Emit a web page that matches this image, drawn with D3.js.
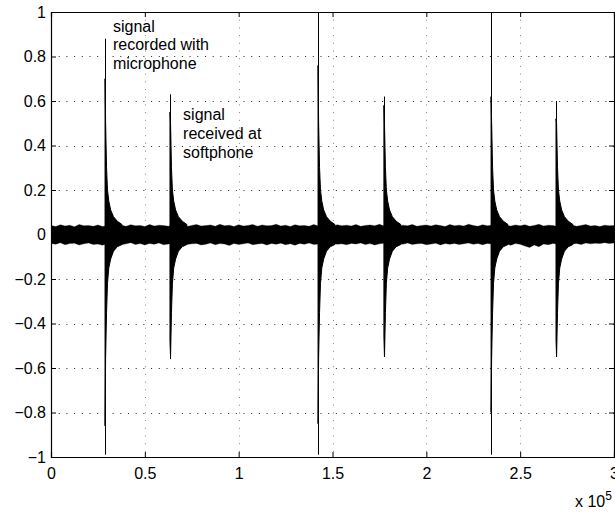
<!DOCTYPE html>
<html>
<head>
<meta charset="utf-8">
<script src="https://cdn.jsdelivr.net/npm/d3@7"></script>
<style>
  body { margin: 0; background: #fff; }
  svg text { font-family: "Liberation Sans", Arial, Helvetica, sans-serif; fill: #000; }
</style>
</head>
<body>
<div id="chart"></div>
<script>
// x in samples, y in amplitude
var xTicks = [0, 50000, 100000, 150000, 200000, 250000, 300000];
var yTicks = [-1, -0.8, -0.6, -0.4, -0.2, 0, 0.2, 0.4, 0.6, 0.8, 1];

// background noise band, one value every 2500 samples
var noiseStep = 2500;
var noiseHi = [
  0.040,0.036,0.044,0.038,0.042,0.035,0.045,0.039,0.041,0.037,
  0.043,0.036,0.040,0.046,0.038,0.042,0.037,0.044,0.039,0.041,
  0.036,0.045,0.038,0.042,0.040,0.037,0.044,0.039,0.043,0.036,
  0.041,0.045,0.038,0.040,0.043,0.037,0.046,0.039,0.042,0.036,
  0.044,0.038,0.041,0.045,0.037,0.043,0.039,0.040,0.046,0.038,
  0.042,0.036,0.044,0.039,0.041,0.037,0.045,0.038,0.043,0.040,
  0.036,0.044,0.039,0.042,0.038,0.045,0.037,0.041,0.043,0.039,
  0.046,0.038,0.040,0.044,0.036,0.042,0.039,0.045,0.037,0.041,
  0.043,0.038,0.044,0.040,0.036,0.045,0.039,0.042,0.038,0.046,
  0.041,0.037,0.044,0.039,0.042,0.036,0.045,0.040,0.038,0.043,
  0.039,0.044,0.037,0.041,0.046,0.038,0.042,0.040,0.036,0.044,
  0.039,0.043,0.037,0.041,0.045,0.038,0.040,0.036,0.042,0.039,
  0.040];
var noiseLo = [
  -0.040,-0.044,-0.037,-0.046,-0.041,-0.039,-0.047,-0.042,-0.038,-0.045,
  -0.043,-0.048,-0.040,-0.044,-0.039,-0.046,-0.042,-0.037,-0.045,-0.041,
  -0.047,-0.040,-0.044,-0.038,-0.046,-0.043,-0.041,-0.048,-0.039,-0.045,
  -0.042,-0.040,-0.047,-0.044,-0.038,-0.046,-0.041,-0.043,-0.049,-0.040,
  -0.045,-0.042,-0.038,-0.046,-0.043,-0.040,-0.047,-0.041,-0.044,-0.039,
  -0.046,-0.042,-0.048,-0.040,-0.044,-0.038,-0.045,-0.043,-0.041,-0.047,
  -0.039,-0.044,-0.042,-0.046,-0.040,-0.043,-0.038,-0.045,-0.041,-0.047,
  -0.042,-0.039,-0.046,-0.043,-0.040,-0.044,-0.038,-0.045,-0.042,-0.040,
  -0.046,-0.043,-0.039,-0.047,-0.041,-0.044,-0.040,-0.045,-0.042,-0.038,
  -0.044,-0.041,-0.046,-0.040,-0.043,-0.039,-0.045,-0.042,-0.048,-0.041,
  -0.044,-0.052,-0.058,-0.047,-0.055,-0.043,-0.046,-0.040,-0.044,-0.041,
  -0.039,-0.043,-0.040,-0.045,-0.038,-0.042,-0.039,-0.041,-0.037,-0.040,
  -0.038];

// clicks
var spikeX = [28800, 63400, 142300, 177400, 234500, 269100];
var spikePeak = [0.88, 0.63, 1.0, 0.62, 1.0, 0.60];
var spikeTrough = [-0.99, -0.56, -0.99, -0.51, -0.99, -0.55];
var bodyHi = [0.70, 0.55, 0.76, 0.58, 0.62, 0.52];
var bodyLo = [-0.86, -0.48, -0.85, -0.46, -0.80, -0.47];

// decaying tail after each click (samples after the click)
var tailDx = [300, 800, 1300, 2000, 3000, 4500, 6500, 9000];
var tailHi = [0.50, 0.30, 0.20, 0.15, 0.11, 0.08, 0.06, 0.045];
var tailLo = [-0.55, -0.35, -0.22, -0.15, -0.11, -0.075, -0.055, -0.045];

var notes = [
  {x: 33000, y: 0.912, lines: ['signal', 'recorded with', 'microphone']},
  {x: 70400, y: 0.515, lines: ['signal', 'received at', 'softphone']}
];

var W = 615, H = 514;
var pL = 51, pR = 614, pT = 12, pB = 457;
var fontSize = '16px';

var svg = d3.select('#chart').append('svg')
  .attr('width', W)
  .attr('height', H);

var xScale = d3.scaleLinear().domain([0, 300000]).range([pL, pR]);
var yScale = d3.scaleLinear().domain([-1, 1]).range([pB, pT]);

svg.append('defs').append('clipPath').attr('id', 'plotclip')
  .append('rect')
  .attr('x', pL).attr('y', pT)
  .attr('width', pR - pL).attr('height', pB - pT);

// grid
var grid = svg.append('g');
grid.selectAll('.hgrid')
  .data(yTicks.filter(function(d){ return d > -1 && d < 1; }))
  .enter().append('line')
  .attr('x1', pL).attr('x2', pR)
  .attr('y1', function(d){ return Math.round(yScale(d)) + 0.5; })
  .attr('y2', function(d){ return Math.round(yScale(d)) + 0.5; })
  .attr('stroke', '#222')
  .attr('stroke-dasharray', '1,6.7');
grid.selectAll('.vgrid')
  .data(xTicks.filter(function(d){ return d > 0 && d < 300000; }))
  .enter().append('line')
  .attr('x1', function(d){ return Math.round(xScale(d)) + 0.5; })
  .attr('x2', function(d){ return Math.round(xScale(d)) + 0.5; })
  .attr('y1', pT).attr('y2', pB)
  .attr('stroke', '#888')
  .attr('stroke-dasharray', '1,6.7');

// signal
var plot = svg.append('g').attr('clip-path', 'url(#plotclip)');

var band = noiseHi.map(function(d, i){
  return {x: i * noiseStep, hi: d, lo: noiseLo[i]};
});

var area = d3.area()
  .x(function(d){ return xScale(d.x); })
  .y0(function(d){ return yScale(d.lo); })
  .y1(function(d){ return yScale(d.hi); });

plot.append('path')
  .datum(band)
  .attr('d', area)
  .attr('fill', '#000')
  .attr('stroke', '#000')
  .attr('stroke-width', 0.3);

spikeX.forEach(function(sx, k){
  var px = Math.round(xScale(sx)) + 0.5;
  var pts = [{x: sx, hi: bodyHi[k], lo: bodyLo[k]}];
  tailDx.forEach(function(dx, j){
    pts.push({x: sx + dx, hi: tailHi[j], lo: tailLo[j]});
  });
  plot.append('path')
    .datum(pts)
    .attr('d', area)
    .attr('fill', '#000')
    .attr('stroke', '#000')
    .attr('stroke-width', 1);
  plot.append('line')
    .attr('x1', px).attr('x2', px)
    .attr('y1', yScale(spikeTrough[k])).attr('y2', yScale(spikePeak[k]))
    .attr('stroke', '#000')
    .attr('stroke-width', 1);
});

// axes box and ticks
var fmt = function(d){ return d < 0 ? '\u2212' + Math.abs(d) : String(d); };

var yAxisL = d3.axisLeft(yScale).tickValues(yTicks).tickSize(-5).tickPadding(5).tickFormat(fmt);
var yAxisR = d3.axisRight(yScale).tickValues(yTicks).tickSize(-5).tickFormat('');
var xAxisB = d3.axisBottom(xScale).tickValues(xTicks).tickSize(-5).tickPadding(11)
  .tickFormat(function(d){ return String(d / 100000); });
var xAxisT = d3.axisTop(xScale).tickValues(xTicks).tickSize(-5).tickFormat('');

var gl = svg.append('g').attr('transform', 'translate(' + pL + ',0)').call(yAxisL);
var gr = svg.append('g').attr('transform', 'translate(' + pR + ',0)').call(yAxisR);
var gb = svg.append('g').attr('transform', 'translate(0,' + pB + ')').call(xAxisB);
var gt = svg.append('g').attr('transform', 'translate(0,' + pT + ')').call(xAxisT);

[gl, gr, gb, gt].forEach(function(g){
  g.selectAll('path').attr('stroke', '#000').attr('stroke-width', 1.2);
  g.selectAll('line').attr('stroke', '#000');
  g.selectAll('text').style('font-size', fontSize).style('font-family', '"Liberation Sans", Arial, sans-serif').attr('fill', '#000');
});

// exponent label
var expo = svg.append('text')
  .attr('x', 575).attr('y', 507)
  .style('font-size', fontSize);
expo.append('tspan').text('x 10');
expo.append('tspan').attr('dy', -7).style('font-size', '12px').text('5');

// annotations
notes.forEach(function(n){
  var t = svg.append('text')
    .attr('x', xScale(n.x))
    .attr('y', yScale(n.y))
    .style('font-size', fontSize);
  n.lines.forEach(function(s, i){
    t.append('tspan')
      .attr('x', xScale(n.x))
      .attr('dy', i === 0 ? 0 : 18.8)
      .text(s);
  });
});
</script>
</body>
</html>
